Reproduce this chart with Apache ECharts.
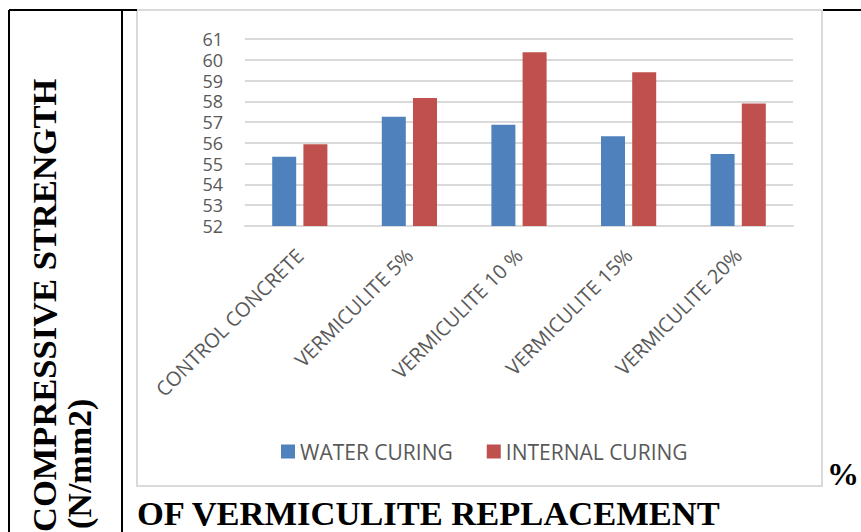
<!DOCTYPE html>
<html>
<head>
<meta charset="utf-8">
<script src="https://cdn.jsdelivr.net/npm/echarts@6/dist/echarts.min.js"></script>
<style>
  html, body { margin: 0; padding: 0; background: #fff; }
  #chart { width: 861px; height: 532px; }
</style>
</head>
<body>
<div id="chart"></div>
<script>
// categories and values
const categories = ['CONTROL CONCRETE', 'VERMICULITE 5%', 'VERMICULITE 10 %', 'VERMICULITE 15%', 'VERMICULITE 20%'];
const waterCuring = [55.33, 57.26, 56.87, 56.32, 55.46];
const internalCuring = [55.93, 58.16, 60.36, 59.40, 57.90];
const seriesNames = ['WATER CURING', 'INTERNAL CURING'];
const yMin = 52, yMax = 61, yStep = 1;

const chart = echarts.init(document.getElementById('chart'), null, {renderer: 'svg'});

const gray = '#595959';
const lineGray = '#d9d9d9';
const serif = '"Liberation Serif", "Times New Roman", serif';
const sans = '"Open Sans", sans-serif';

let option = {
    animation: false,
    color: ['#4F81BD', '#C0504D'],
    grid: {left: 245, right: 68, top: 39, bottom: 306},
    legend: {
        data: seriesNames,
        left: 276,
        top: 436,
        itemWidth: 14,
        itemHeight: 14,
        itemGap: 34,
        icon: 'rect',
        textStyle: {color: gray, fontSize: 21, fontFamily: sans}
    },
    xAxis: {
        type: 'category',
        data: categories,
        axisLine: {show: true, lineStyle: {color: lineGray, width: 2}},
        axisTick: {show: false},
        axisLabel: {
            interval: 0,
            rotate: 45,
            margin: 26,
            color: gray,
            fontSize: 20,
            fontFamily: sans
        }
    },
    yAxis: {
        type: 'value',
        min: yMin,
        max: yMax,
        interval: yStep,
        axisLine: {show: false},
        axisTick: {show: false},
        axisLabel: {margin: 22, color: gray, fontSize: 18, lineHeight: 18, fontFamily: sans},
        splitLine: {lineStyle: {color: lineGray, width: 2}}
    },
    series: [
        {
            name: seriesNames[0],
            type: 'bar',
            data: waterCuring,
            barWidth: 24,
            barGap: '30%'
        },
        {
            name: seriesNames[1],
            type: 'bar',
            data: internalCuring,
            barWidth: 24
        }
    ],
    graphic: [
        // chart frame
        {type: 'rect', z: -10, shape: {x: 137, y: 10, width: 685, height: 476},
            style: {fill: '#fff', stroke: lineGray, lineWidth: 2}},
        // table borders
        {type: 'line', shape: {x1: 9, y1: 10, x2: 137, y2: 10}, style: {stroke: '#000', lineWidth: 2}},
        {type: 'line', shape: {x1: 823, y1: 10, x2: 861, y2: 10}, style: {stroke: '#000', lineWidth: 2}},
        {type: 'line', shape: {x1: 9, y1: 10, x2: 9, y2: 532}, style: {stroke: '#000', lineWidth: 2}},
        {type: 'line', shape: {x1: 122, y1: 10, x2: 122, y2: 532}, style: {stroke: '#000', lineWidth: 2}},
        // rotated axis title
        {type: 'text', x: 44, y: 532, rotation: Math.PI / 2,
            style: {text: 'COMPRESSIVE STRENGTH', font: 'bold 34.5px ' + serif, fill: '#000',
                align: 'left', verticalAlign: 'middle'}},
        {type: 'text', x: 79, y: 529, rotation: Math.PI / 2,
            style: {text: '(N/mm2)', font: 'bold 34px ' + serif, fill: '#000',
                align: 'left', verticalAlign: 'middle'}},
        // bottom title pieces
        {type: 'text', x: 843, y: 474,
            style: {text: '%', font: 'bold 32px ' + serif, fill: '#000',
                align: 'center', verticalAlign: 'middle'}},
        {type: 'text', x: 137, y: 513,
            style: {text: 'OF VERMICULITE REPLACEMENT', font: 'bold 34.5px ' + serif, fill: '#000',
                align: 'left', verticalAlign: 'middle'}}
    ]
};
chart.setOption(option);
</script>
</body>
</html>
